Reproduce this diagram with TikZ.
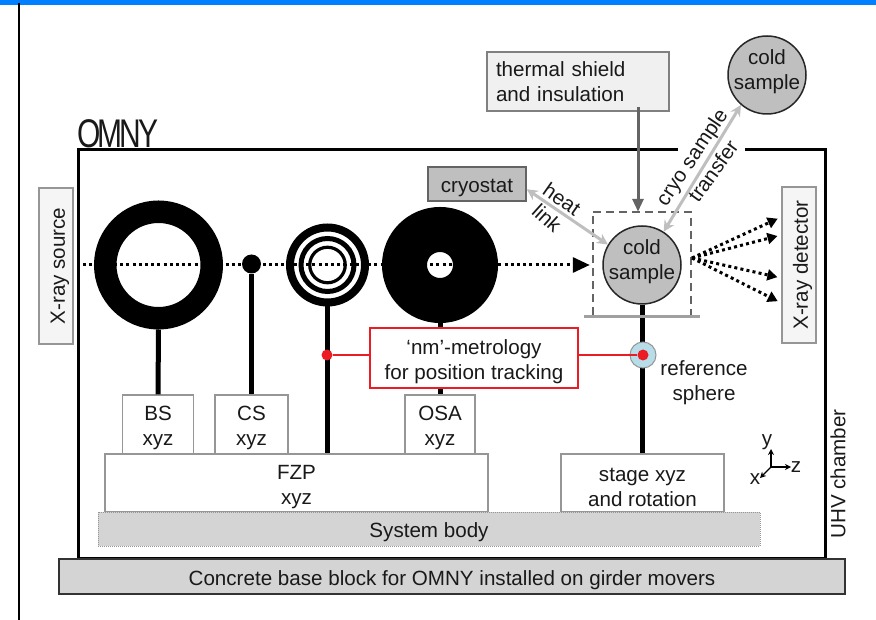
\documentclass[tikz,border=0pt]{standalone}
\usepackage{xcolor}
\usepackage{fontspec}
\setmainfont{Liberation Sans}
\usepackage{tikz}
\usetikzlibrary{arrows.meta}
\definecolor{OMblue}{RGB}{0,128,255}
\definecolor{OMred}{RGB}{236,28,36}
\definecolor{OMsphere}{RGB}{183,221,232}
\definecolor{OMcold}{RGB}{191,191,191}
\definecolor{OMbase}{RGB}{212,212,212}
\definecolor{OMedge}{RGB}{150,150,150}
\definecolor{OMdark}{RGB}{100,100,100}
\newcommand{\lowtext}{\rule{0pt}{22pt}}
\tikzset{
  every node/.style={font=\fontsize{20.6}{25}\selectfont, align=center, inner sep=0pt, text=black!90},
  box/.style={draw=OMedge, line width=1.4pt, fill=white},
  sidebox/.style={box, fill=black!4},
  disc/.style={circle, draw=black, minimum size=#1},
  stem/.style={line width=5pt, black},
  coldnode/.style={circle, draw=black!85, line width=1.5pt, fill=OMcold, minimum size=78pt, text depth=10pt, inner sep=-5pt},
  reddot/.style={circle, fill=OMred, minimum size=11pt},
  redline/.style={draw=OMred, line width=2pt},
  beam/.style={line width=3pt, dash pattern=on 3pt off 3.2pt, -{Triangle[length=17pt, width=15pt]}, black},
  rays/.style={line width=3pt, dash pattern=on 3pt off 3.2pt, -{Triangle[length=10pt, width=11pt]}, black},
  lightarrow/.style={line width=3pt, draw=OMcold, {Stealth[length=11pt, width=11pt]}-{Stealth[length=11pt, width=11pt]}}
}
\begin{document}
\begin{tikzpicture}[x=1pt, y=-1pt]
  \useasboundingbox (0,0) rectangle (876,620);
  \fill[OMblue] (0,0) rectangle (876,5);
  \draw[line width=2pt, black] (19,3) -- (19,620);
  \draw[line width=3pt, black] (678,150) -- (78,150) -- (78,558) -- (825,558) -- (825,150) -- (745,150);
  \node[anchor=south west, font=\fontsize{40}{40}\selectfont] (omny) at (77,148) {\scalebox{.75}[1]{O\kern-4pt M\kern-4pt N\kern-4pt Y}};

  \node[sidebox, rotate=90, minimum width=156pt, minimum height=34pt] (source) at (56,266) {\lowtext X-ray source};
  \node[sidebox, rotate=90, minimum width=156pt, minimum height=34pt] (detector) at (799,265) {\lowtext X-ray detector};
  \node[rotate=90] (chamber) at (838,474) {UHV chamber};

  \node[box] (bsbox) at (158,424.5) [minimum width=71pt, minimum height=59pt] {\lowtext BS\\xyz};
  \node[box] (csbox) at (251.5,424.5) [minimum width=73pt, minimum height=59pt] {\lowtext CS\\xyz};
  \node[box] (osabox) at (440,424.5) [minimum width=70pt, minimum height=59pt] {\lowtext OSA\\xyz};
  \node[box] (fzpbox) at (296.5,483) [minimum width=383pt, minimum height=58pt] {\lowtext FZP\\xyz};
  \node[box] (stagebox) at (642.5,483) [minimum width=163pt, minimum height=58pt] {\lowtext stage xyz\\and rotation};
  \node[draw=OMedge, line width=1pt, dash pattern=on 1pt off 1pt, fill=OMbase] (body) at (429,529) [minimum width=662pt, minimum height=34pt] {\lowtext System body};
  \node[draw=black!80, line width=2pt, fill=OMbase] (concrete) at (452,576.5) [minimum width=786pt, minimum height=35pt] {\lowtext Concrete base block for OMNY installed on girder movers};

  \coordinate (beamstart) at (83,265);
  \node[minimum width=98pt, minimum height=103pt] (shield) at (642,263.5) {};
  \draw[beam] (beamstart) -- (shield.west |- 0,265) [shorten >=3pt];

  \node[disc=106.5pt, line width=22.5pt] (bsring) at (158.5,265) {};
  \node[circle, fill=black, minimum size=19pt] (csdot) at (251.5,264) {};
  \node[disc=75pt, line width=8pt] (fzpouter) at (327.5,265) {};
  \node[disc=53pt, line width=5pt] (fzpmid) at (327.5,265) {};
  \node[disc=35.5pt, line width=3.2pt] (fzpinner) at (327.5,265) {};
  \node[disc=71pt, line width=45pt] (osaring) at (440,265) {};

  \draw[stem] (bsring.south) -- (bsbox.north);
  \draw[stem] (csdot.south) -- (csbox.north);
  \draw[stem] (fzpouter.south) -- (fzpouter.south |- fzpbox.north);
  \draw[stem] (osaring.south) -- (osabox.north);

  \node[box, draw=black!50, line width=2pt, fill=black!6, text width=164pt, inner xsep=9pt, minimum height=59pt, align=left] (thermal) at (578,81.5) {thermal shield\\and insulation};
  \node[draw=OMdark, line width=1.5pt, fill=OMcold, minimum width=98pt, minimum height=34pt] (cryostat) at (477,184) {\lowtext cryostat};
  \node[coldnode] (sample) at (642,265) {cold\\sample};
  \node[coldnode] (coldtop) at (767,75) {cold\\sample};

  \draw[stem] (sample.south) -- (sample.south |- stagebox.north);
  \draw[draw=OMdark, line width=2pt, dash pattern=on 8pt off 5pt] (shield.south west) |- (shield.north east) -- (shield.south east);
  \draw[line width=3pt, draw=OMedge!90] (584,316.5) -- (700,316.5);

  \coordinate (thermaldrop) at (638,107);
  \draw[line width=3pt, draw=OMdark, -{Triangle[length=13pt, width=11pt]}] (thermaldrop) -- (thermaldrop |- shield.north);
  \draw[lightarrow] (cryostat.-6) -- (sample.149);
  \draw[lightarrow] (sample.57) -- (coldtop.229);

  \node[rotate=-35] (heat) at (562,199) {heat};
  \node[rotate=-42] (link) at (547,218) {link};
  \node[rotate=56] (cryolabel) at (693,158) {cryo sample};
  \node[rotate=54] (transfer) at (713,171) {transfer};

  \coordinate (fan) at (692,258);
  \foreach \rayend in {217,235,278,303}
    \draw[rays, shorten >=4pt] (fan) -- (detector.north |- 0,\rayend);

  \node[draw=OMred, line width=2.5pt, fill=white, minimum width=208pt, minimum height=60pt] (metrology) at (474,358) {\lowtext `nm'-metrology\\for position tracking};
  \node[circle, draw=OMedge, line width=1pt, fill=OMsphere, minimum size=26pt] (sphere) at (643,355) {};
  \node[reddot] (fzpdot) at (327,355) {};
  \node[reddot] (spheredot) at (643,355) {};
  \draw[redline] (fzpdot) -- (fzpdot -| metrology.west);
  \draw[redline] (spheredot) -- (spheredot -| metrology.east);
  \node (refsphere) at (704,383) {reference\\sphere};

  \coordinate (axes) at (771,467);
  \coordinate (ytip) at (771,449);
  \coordinate (ztip) at (791,467);
  \coordinate (xtip) at (760,478);
  \draw[line width=1.2pt, black, -{Stealth[length=6pt, width=6pt]}] (axes) -- (ytip);
  \draw[line width=1.2pt, black, -{Stealth[length=6pt, width=6pt]}] (axes) -- (ztip);
  \draw[line width=1.2pt, black, -{Stealth[length=6pt, width=6pt]}] (axes) -- (xtip);
  \node (ylabel) at (767,442) {y};
  \node (zlabel) at (796,467) {z};
  \node (xlabel) at (755,479) {x};
\end{tikzpicture}
\end{document}
